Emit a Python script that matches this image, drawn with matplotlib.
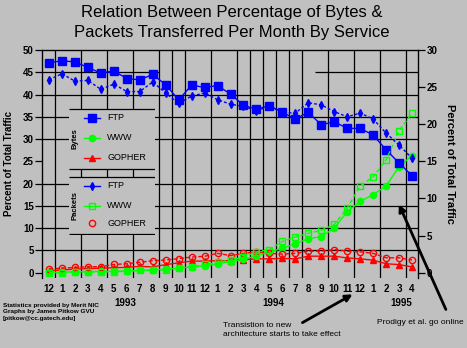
import matplotlib
matplotlib.use("Agg")
import matplotlib.pyplot as plt
import matplotlib.transforms as mtransforms
from matplotlib.patches import Rectangle

# ---- data ----
months = ["12", "1", "2", "3", "4", "5", "6", "7", "8", "9", "10", "11", "12",
          "1", "2", "3", "4", "5", "6", "7", "8", "9", "10", "11", "12",
          "1", "2", "3", "4"]
years = ["1993", "1994", "1995"]
year_pos = [5.9, 17.3, 27.2]

# percent of bytes (left axis)
bytes_ftp = [47.1, 47.6, 47.3, 46.1, 44.8, 45.3, 43.6, 43.3, 44.5, 42.2, 38.8, 42.1, 41.6,
             42.0, 40.1, 37.6, 36.7, 37.5, 36.0, 34.5, 36.0, 33.2, 33.9, 32.4, 32.4,
             30.9, 27.6, 24.6, 21.8]
bytes_www = [0.1, 0.1, 0.2, 0.2, 0.3, 0.3, 0.4, 0.5, 0.6, 0.8, 1.0, 1.3, 1.5,
             2.0, 2.5, 3.0, 3.8, 4.6, 5.5, 6.5, 7.6, 8.1, 10.0, 13.7, 16.0,
             17.5, 19.5, 23.8, 26.3]
bytes_gopher = [0.4, 0.6, 0.8, 0.9, 1.0, 1.1, 1.2, 1.4, 1.3, 1.8, 2.2, 2.6, 2.6,
                2.7, 2.7, 2.9, 3.1, 3.1, 3.2, 3.1, 3.7, 3.7, 3.7, 3.3, 3.1,
                2.8, 2.0, 1.8, 1.3]

# percent of packets (right axis)
packets_ftp = [26.0, 26.8, 25.8, 25.9, 24.7, 25.4, 24.4, 24.4, 25.7, 24.2, 22.8, 23.8, 24.2,
               23.3, 22.7, 22.4, 21.8, 22.4, 21.6, 21.5, 22.9, 22.6, 21.7, 21.0, 21.5,
               20.7, 18.8, 17.2, 15.4]
packets_www = [0.0, 0.0, 0.1, 0.1, 0.1, 0.1, 0.2, 0.3, 0.3, 0.4, 0.6, 0.8, 1.1,
               1.4, 1.7, 2.1, 2.8, 3.1, 4.2, 4.8, 5.3, 5.7, 6.5, 8.7, 11.7,
               12.9, 15.2, 19.1, 21.5]
packets_gopher = [0.5, 0.6, 0.7, 0.8, 0.8, 1.1, 1.2, 1.4, 1.6, 1.7, 1.9, 2.1, 2.2,
                  2.6, 2.3, 2.6, 2.8, 2.6, 2.5, 2.6, 2.9, 2.9, 3.1, 2.9, 2.8,
                  2.6, 2.0, 2.0, 1.7]

# month boundaries that carry a grid line in the original
grid_x = [0.5, 2.5, 4.5, 6.5, 8.5, 9.5, 10.5, 12.5, 14.5, 15.5, 16.5, 17.5, 18.5,
          19.5, 21.5, 23.5, 25.5, 27.5]
grid_y = [5, 10, 15, 20, 30, 35, 40]

BLUE, GREEN, RED = "#0000ff", "#00ff00", "#ff0000"
GRAY = "#c0c0c0"

plt.rcParams["font.family"] = ["Liberation Sans", "DejaVu Sans"]

styles = {
    "bytes_ftp": dict(color=BLUE, lw=1.0, marker="s", ms=5.5, mfc=BLUE, mec=BLUE),
    "bytes_www": dict(color=GREEN, lw=1.0, marker="o", ms=4.5, mfc=GREEN, mec=GREEN),
    "bytes_gopher": dict(color=RED, lw=1.0, marker="^", ms=4.5, mfc=RED, mec=RED),
    "packets_ftp": dict(color=BLUE, lw=1.0, ls=(0, (2, 1.5)), marker="d", ms=4, mfc=BLUE, mec=BLUE),
    "packets_www": dict(color=GREEN, lw=1.0, ls=(0, (3, 2)), marker="s", ms=5, mfc="none", mec=GREEN),
    "packets_gopher": dict(color=RED, lw=1.0, ls=(0, (3, 1.5)), marker="o", ms=4.5, mfc="none", mec=RED),
}

W, H = 467, 348
fig = plt.figure(figsize=(W / 100, H / 100), dpi=100, facecolor=GRAY)


def px(x, y):
    return x / W, 1 - y / H


ax = fig.add_axes([42 / W, 1 - 278 / H, (418 - 42) / W, (278 - 50) / H], facecolor=GRAY)
x = list(range(len(months)))
ax.set_xlim(-0.54, 28.46)
ax.set_ylim(-1.2, 50)

ax.vlines(grid_x, -1.2, 50, color="black", lw=0.9, zorder=0)
ax.hlines(grid_y, -0.54, 28.46, color="black", lw=0.9, zorder=0)
ax.hlines(45, -0.54, 8.5, color="black", lw=0.9, zorder=0)
ax.hlines(45, 20.5, 28.46, color="black", lw=0.9, zorder=0)

ax.plot(x, bytes_gopher, **styles["bytes_gopher"], zorder=3)
ax.plot(x, bytes_www, **styles["bytes_www"], zorder=3)
ax.plot(x, bytes_ftp, **styles["bytes_ftp"], zorder=3)

ax.spines["bottom"].set_visible(False)
for side in ["top", "left", "right"]:
    ax.spines[side].set_linewidth(0.9)

ax.set_xticks(x)
ax.set_xticklabels(months, fontsize=7, fontweight="bold")
ax.tick_params(axis="x", length=0, pad=4)
ax.set_yticks(range(0, 51, 5))
ax.tick_params(axis="y", length=5, width=0.9, pad=1, labelsize=7)
for t in ax.get_yticklabels():
    t.set_fontweight("bold")
ax.set_ylabel("Percent of Total Traffic", fontsize=7, fontweight="bold", labelpad=6)

ax2 = ax.twinx()
ax2.set_ylim(-1.2 * 0.6, 30)
ax2.set_yticks(range(0, 31, 5))
ax2.tick_params(axis="y", length=5, width=0.9, pad=1, labelsize=7)
for t in ax2.get_yticklabels():
    t.set_fontweight("bold")
ax2.spines["bottom"].set_visible(False)
ax2.plot(x, packets_gopher, **styles["packets_gopher"], zorder=3)
ax2.plot(x, packets_www, **styles["packets_www"], zorder=3)
ax2.plot(x, packets_ftp, **styles["packets_ftp"], zorder=3)
ax2.set_ylabel("Percent of Total Traffic", fontsize=8, fontweight="bold",
               rotation=270, labelpad=13)

# year labels under the month ticks
year_tr = mtransforms.blended_transform_factory(ax.transData, fig.transFigure)
for yr, xp in zip(years, year_pos):
    ax.text(xp, px(0, 303)[1], yr, transform=year_tr,
            ha="center", va="center", fontsize=7, fontweight="bold")

# title
fig.text(*px(232, 13), "Relation Between Percentage of Bytes &", ha="center", va="center", fontsize=12)
fig.text(*px(232, 33), "Packets Transferred Per Month By Service", ha="center", va="center", fontsize=12)

# credits and notes
fig.text(*px(3, 312), "Statistics provided by Merit NIC\nGraphs by James Pitkow GVU\n[pitkow@cc.gatech.edu]",
         ha="left", va="center", fontsize=4.6, fontweight="bold", linespacing=1.3)
fig.text(*px(223, 330), "Transistion to new\narchitecture starts to take effect",
         ha="left", va="center", fontsize=6, linespacing=1.45)
fig.text(*px(377, 323), "Prodigy et al. go online", ha="left", va="center", fontsize=6)

ax.annotate("", xy=px(355, 293), xytext=px(300, 324), xycoords="figure fraction",
            textcoords="figure fraction",
            arrowprops=dict(arrowstyle="-|>", lw=2, color="black", mutation_scale=10))
ax.annotate("", xy=(26.9, 15.9), xytext=px(447, 312), textcoords="figure fraction",
            annotation_clip=False,
            arrowprops=dict(arrowstyle="-|>", lw=2, color="black", mutation_scale=10))

# hand-made legend box
lax = fig.add_axes([69 / W, 1 - 235 / H, 86 / W, 127 / H])
lax.set_xlim(69, 155)
lax.set_ylim(235, 108)
lax.axis("off")
lax.add_patch(Rectangle((69, 109), 86, 60, fc=GRAY, ec="none"))
lax.add_patch(Rectangle((69, 177), 86, 57, fc=GRAY, ec="none"))
lax.hlines([109, 169, 177, 234], 69, 155, color="black", lw=0.9)
lax.text(75, 139, "Bytes", rotation=90, ha="center", va="center", fontsize=5.5, fontweight="bold")
lax.text(75, 205, "Packets", rotation=90, ha="center", va="center", fontsize=5.5, fontweight="bold")
entries = [(118, "bytes_ftp", "FTP"), (138, "bytes_www", "WWW"), (158, "bytes_gopher", "GOPHER"),
           (186, "packets_ftp", "FTP"), (206, "packets_www", "WWW"), (223, "packets_gopher", "GOPHER")]
for yy, key, label in entries:
    st = dict(styles[key])
    if key == "packets_gopher":
        st["lw"] = 0
    st["ls"] = "-"
    lax.plot([84, 92, 100], [yy, yy, yy], markevery=[1], **st)
    lax.text(107, yy, label, ha="left", va="center", fontsize=6.5)

fig.savefig("out.png", dpi=100, facecolor=GRAY)
